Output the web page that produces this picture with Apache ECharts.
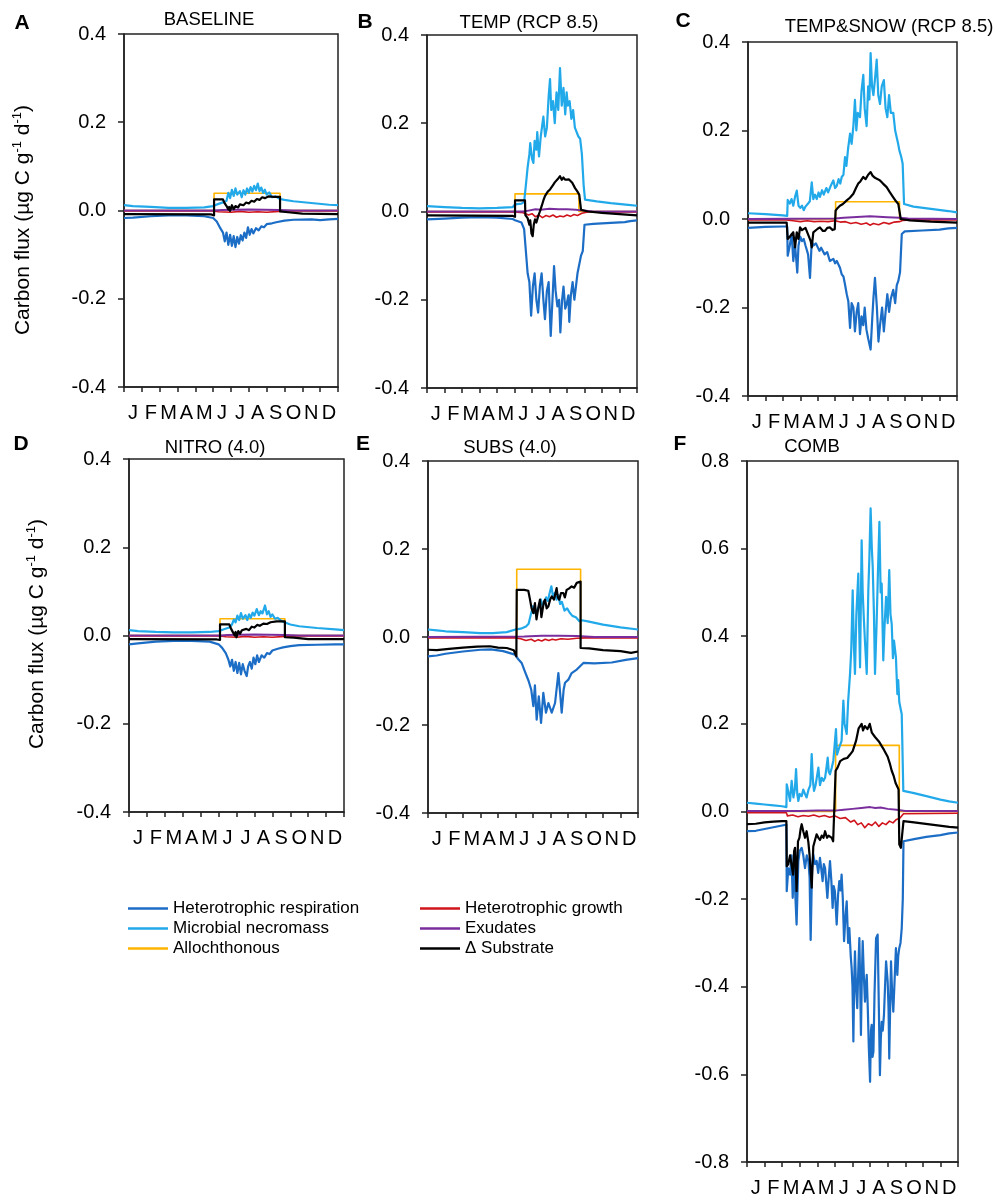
<!DOCTYPE html>
<html>
<head>
<meta charset="utf-8">
<title>Carbon flux scenarios</title>
<script src="https://cdn.jsdelivr.net/npm/echarts@6/dist/echarts.min.js"></script>
<style>
  html, body { margin: 0; padding: 0; background: #fff; }
  #chart { width: 998px; height: 1200px; }
</style>
</head>
<body>
<div id="chart"></div>
<script>
// x values are in months from 1 January (0 .. 12); y values in µg C g-1 d-1
const monthLabels = ['J','F','M','A','M','J','J','A','S','O','N','D'];
const panelLetters = ['A','B','C','D','E','F'];
const panelTitles = ['BASELINE','TEMP (RCP 8.5)','TEMP&SNOW (RCP 8.5)','NITRO (4.0)','SUBS (4.0)','COMB'];
const seriesNames = ['Heterotrophic respiration','Microbial necromass','Allochthonous','Heterotrophic growth','Exudates','\u0394 Substrate'];
const yLimits = [0.4, 0.4, 0.4, 0.4, 0.4, 0.8];

// ---- A: BASELINE ----
const respA = [[0,-0.017],[0.5,-0.016],[1.5,-0.013],[2.5,-0.011],[3.5,-0.011],[4.5,-0.013],[5.0,-0.017],[5.2,-0.025],[5.4,-0.04],[5.55,-0.05],[5.65,-0.07],[5.75,-0.05],[5.85,-0.078],[5.95,-0.055],[6.05,-0.08],[6.15,-0.058],[6.25,-0.083],[6.35,-0.06],[6.45,-0.075],[6.55,-0.056],[6.65,-0.068],[6.75,-0.05],[6.85,-0.062],[6.95,-0.038],[7.05,-0.055],[7.15,-0.042],[7.25,-0.052],[7.4,-0.04],[7.55,-0.045],[7.7,-0.036],[7.85,-0.038],[8.0,-0.031],[8.3,-0.029],[8.6,-0.026],[9.0,-0.023],[9.5,-0.021],[10.5,-0.02],[11,-0.022],[11.5,-0.02],[12,-0.019]];
const necroA = [[0,0.012],[0.5,0.01],[1.5,0.008],[2.5,0.006],[3.5,0.006],[4.5,0.007],[5.0,0.01],[5.3,0.015],[5.6,0.019],[5.75,0.022],[5.85,0.04],[5.95,0.028],[6.05,0.047],[6.15,0.033],[6.25,0.05],[6.35,0.036],[6.5,0.044],[6.6,0.03],[6.7,0.046],[6.8,0.036],[6.9,0.05],[7.0,0.04],[7.1,0.053],[7.2,0.043],[7.3,0.056],[7.4,0.046],[7.5,0.061],[7.6,0.044],[7.7,0.052],[7.8,0.04],[7.9,0.047],[8.0,0.036],[8.15,0.041],[8.3,0.03],[8.5,0.032],[8.75,0.026],[9.0,0.024],[9.5,0.021],[10.5,0.017],[11.5,0.013],[12,0.012]];
const allochA = [[0,0],[5.05,0],[5.05,0.039],[8.75,0.039],[8.75,0],[12,0]];
const growthA = [[0,-0.001],[5.0,-0.001],[5.3,-0.003],[6.0,-0.004],[6.5,-0.002],[7.0,-0.004],[7.5,-0.003],[8.0,-0.004],[8.7,-0.002],[9.2,-0.001],[12,-0.001]];
const exudA = [[0,0],[5.0,0],[5.5,0.001],[7.0,0.002],[8.7,0.001],[9.5,0],[12,0]];
const substrA = [[0,-0.008],[4.9,-0.009],[5.05,-0.011],[5.05,0.025],[5.55,0.025],[5.65,0.016],[5.75,0.01],[5.85,0.002],[5.9,0.008],[5.95,-0.001],[6.05,0.012],[6.15,0.003],[6.25,0.01],[6.4,0.007],[6.5,0.014],[6.7,0.012],[6.85,0.018],[7.0,0.016],[7.15,0.022],[7.3,0.02],[7.45,0.026],[7.6,0.024],[7.75,0.03],[7.9,0.028],[8.1,0.032],[8.4,0.031],[8.75,0.031],[8.75,-0.002],[9.2,-0.004],[10,-0.007],[12,-0.008]];

// ---- B: TEMP (RCP 8.5) ----
const respB = [[0,-0.018],[1,-0.016],[2,-0.014],[3,-0.013],[4,-0.014],[4.9,-0.017],[5.03,-0.02],[5.4,-0.025],[5.55,-0.04],[5.65,-0.09],[5.75,-0.14],[5.85,-0.16],[5.95,-0.236],[6.05,-0.17],[6.15,-0.14],[6.25,-0.2],[6.35,-0.229],[6.45,-0.17],[6.55,-0.14],[6.65,-0.2],[6.74,-0.244],[6.85,-0.18],[6.95,-0.16],[7.07,-0.282],[7.17,-0.2],[7.26,-0.124],[7.35,-0.18],[7.45,-0.215],[7.55,-0.2],[7.62,-0.274],[7.72,-0.2],[7.8,-0.17],[7.9,-0.22],[7.98,-0.21],[8.08,-0.19],[8.13,-0.25],[8.22,-0.19],[8.32,-0.16],[8.42,-0.2],[8.51,-0.17],[8.6,-0.14],[8.7,-0.14],[8.8,-0.1],[8.9,-0.09],[9.0,-0.03],[9.5,-0.028],[10.5,-0.026],[11.3,-0.024],[11.6,-0.022],[12,-0.02]];
const necroB = [[0,0.012],[1,0.01],[2,0.008],[3,0.007],[4,0.008],[4.9,0.01],[5.03,0.016],[5.4,0.018],[5.55,0.022],[5.65,0.06],[5.75,0.1],[5.85,0.13],[5.9,0.155],[6.0,0.12],[6.08,0.11],[6.15,0.16],[6.25,0.14],[6.3,0.18],[6.4,0.125],[6.5,0.17],[6.6,0.2],[6.65,0.215],[6.75,0.17],[6.85,0.19],[6.95,0.26],[7.03,0.3],[7.1,0.23],[7.2,0.25],[7.3,0.2],[7.4,0.27],[7.5,0.23],[7.6,0.325],[7.7,0.24],[7.8,0.28],[7.9,0.22],[7.98,0.27],[8.05,0.24],[8.15,0.25],[8.25,0.21],[8.35,0.23],[8.45,0.19],[8.55,0.19],[8.65,0.17],[8.75,0.165],[8.85,0.13],[8.95,0.06],[9.03,0.027],[9.7,0.023],[10.5,0.019],[11.5,0.015],[12,0.013]];
const allochB = [[0,0],[5.03,0],[5.03,0.04],[8.68,0.04],[8.68,0],[12,0]];
const growthB = [[0,-0.001],[5.0,-0.001],[5.5,-0.003],[5.8,-0.008],[6.0,-0.005],[6.2,-0.012],[6.4,-0.008],[6.6,-0.014],[6.8,-0.009],[7.0,-0.012],[7.2,-0.008],[7.4,-0.013],[7.6,-0.01],[7.8,-0.012],[8.0,-0.008],[8.2,-0.011],[8.4,-0.007],[8.6,-0.009],[8.85,-0.004],[9.2,-0.001],[12,-0.001]];
const exudB = [[0,0],[5.5,0],[5.8,0.002],[6.2,0.005],[6.5,0.004],[7.0,0.006],[7.5,0.005],[8.0,0.005],[8.5,0.004],[8.9,0.002],[9.5,0],[12,0]];
const substrB = [[0,-0.009],[4.9,-0.01],[5.03,-0.012],[5.03,0.025],[5.6,0.025],[5.62,-0.008],[5.75,-0.015],[5.85,-0.03],[5.9,-0.02],[5.97,-0.05],[6.04,-0.056],[6.1,-0.03],[6.17,-0.018],[6.25,-0.025],[6.36,-0.01],[6.45,0.0],[6.55,0.012],[6.65,0.025],[6.74,0.035],[6.9,0.045],[7.03,0.05],[7.2,0.06],[7.3,0.066],[7.41,0.069],[7.5,0.075],[7.6,0.08],[7.7,0.072],[7.8,0.077],[7.89,0.072],[8.0,0.075],[8.1,0.073],[8.17,0.076],[8.3,0.065],[8.46,0.053],[8.6,0.045],[8.7,0.038],[8.8,0.004],[9.2,0.0],[10,-0.003],[11,-0.006],[12,-0.009]];

// ---- C: TEMP&SNOW (RCP 8.5) ----
const respC = [[0,-0.02],[1,-0.018],[2,-0.017],[2.25,-0.017],[2.28,-0.083],[2.4,-0.06],[2.51,-0.034],[2.6,-0.095],[2.7,-0.057],[2.83,-0.121],[2.9,-0.06],[3.0,-0.04],[3.1,-0.05],[3.2,-0.045],[3.3,-0.06],[3.45,-0.08],[3.56,-0.133],[3.66,-0.05],[3.75,-0.06],[3.9,-0.055],[4.1,-0.072],[4.2,-0.065],[4.4,-0.08],[4.55,-0.075],[4.7,-0.095],[4.9,-0.09],[5.0,-0.1],[5.1,-0.095],[5.28,-0.11],[5.38,-0.125],[5.48,-0.13],[5.57,-0.148],[5.67,-0.17],[5.76,-0.186],[5.86,-0.246],[5.95,-0.19],[6.05,-0.2],[6.14,-0.254],[6.24,-0.21],[6.33,-0.19],[6.43,-0.26],[6.52,-0.22],[6.62,-0.24],[6.7,-0.2],[6.8,-0.25],[6.9,-0.27],[7.04,-0.295],[7.14,-0.22],[7.2,-0.18],[7.29,-0.133],[7.4,-0.2],[7.49,-0.277],[7.58,-0.24],[7.7,-0.2],[7.8,-0.254],[7.9,-0.21],[8.0,-0.17],[8.1,-0.21],[8.2,-0.18],[8.34,-0.16],[8.45,-0.19],[8.54,-0.15],[8.63,-0.14],[8.73,-0.12],[8.83,-0.034],[9.0,-0.028],[10,-0.026],[11,-0.024],[11.5,-0.021],[12,-0.02]];
const necroC = [[0,0.013],[1,0.011],[2,0.008],[2.25,0.007],[2.28,0.043],[2.4,0.035],[2.5,0.045],[2.6,0.03],[2.7,0.05],[2.8,0.064],[2.9,0.03],[3.0,0.025],[3.1,0.03],[3.2,0.02],[3.3,0.028],[3.45,0.035],[3.55,0.04],[3.66,0.083],[3.75,0.045],[3.85,0.055],[3.95,0.045],[4.05,0.06],[4.13,0.05],[4.25,0.065],[4.35,0.055],[4.5,0.07],[4.6,0.06],[4.75,0.075],[4.9,0.087],[5.0,0.07],[5.1,0.075],[5.2,0.09],[5.3,0.08],[5.38,0.095],[5.48,0.1],[5.57,0.14],[5.65,0.12],[5.75,0.16],[5.86,0.193],[5.95,0.17],[6.05,0.21],[6.14,0.269],[6.22,0.2],[6.3,0.24],[6.43,0.23],[6.52,0.29],[6.62,0.326],[6.7,0.25],[6.81,0.21],[6.9,0.3],[6.97,0.27],[7.04,0.375],[7.12,0.3],[7.2,0.28],[7.3,0.32],[7.39,0.36],[7.48,0.28],[7.58,0.26],[7.68,0.3],[7.8,0.314],[7.9,0.25],[8.0,0.23],[8.1,0.28],[8.2,0.24],[8.34,0.24],[8.45,0.2],[8.54,0.2],[8.62,0.17],[8.69,0.155],[8.8,0.14],[8.88,0.125],[8.96,0.034],[9.5,0.028],[10.5,0.023],[11.5,0.018],[12,0.015]];
const allochC = [[0,0],[5.03,0],[5.03,0.039],[8.7,0.039],[8.7,0],[12,0]];
const growthC = [[0,-0.002],[2.2,-0.002],[2.3,-0.005],[2.6,-0.004],[3.0,-0.006],[3.4,-0.004],[3.8,-0.006],[4.2,-0.005],[4.6,-0.006],[5.0,-0.004],[5.3,-0.007],[5.6,-0.006],[5.9,-0.01],[6.2,-0.008],[6.5,-0.012],[6.8,-0.009],[7.0,-0.014],[7.2,-0.01],[7.5,-0.013],[7.8,-0.008],[8.1,-0.011],[8.4,-0.007],[8.7,-0.006],[8.9,-0.003],[9.3,-0.002],[12,-0.002]];
const exudC = [[0,0],[5.0,0.001],[5.5,0.003],[6.0,0.004],[6.5,0.005],[7.0,0.006],[7.5,0.005],[8.0,0.004],[8.7,0.003],[9.2,0.001],[12,0]];
const substrC = [[0,-0.008],[2.22,-0.008],[2.28,-0.045],[2.4,-0.04],[2.51,-0.042],[2.6,-0.03],[2.7,-0.064],[2.8,-0.03],[2.9,-0.045],[2.99,-0.019],[3.1,-0.025],[3.18,-0.027],[3.3,-0.02],[3.37,-0.019],[3.5,-0.04],[3.6,-0.05],[3.66,-0.064],[3.75,-0.03],[3.85,-0.027],[4.0,-0.022],[4.13,-0.019],[4.3,-0.027],[4.42,-0.027],[4.55,-0.02],[4.71,-0.019],[4.85,-0.025],[4.98,-0.023],[5.03,0.019],[5.15,0.025],[5.28,0.03],[5.45,0.034],[5.67,0.042],[5.85,0.048],[6.05,0.057],[6.2,0.07],[6.33,0.08],[6.45,0.085],[6.62,0.095],[6.75,0.09],[6.9,0.1],[7.04,0.106],[7.15,0.098],[7.29,0.093],[7.45,0.09],[7.58,0.087],[7.75,0.08],[7.96,0.072],[8.15,0.06],[8.34,0.049],[8.5,0.04],[8.63,0.034],[8.72,0.03],[8.77,0.0],[8.85,-0.004],[9.3,-0.003],[10.5,-0.006],[12,-0.008]];

// ---- D: NITRO (4.0) ----
const respD = [[0,-0.02],[0.5,-0.018],[1.5,-0.014],[2.5,-0.012],[3.5,-0.012],[4.5,-0.014],[5.0,-0.02],[5.2,-0.028],[5.4,-0.04],[5.55,-0.055],[5.65,-0.07],[5.75,-0.055],[5.85,-0.08],[5.95,-0.06],[6.05,-0.085],[6.15,-0.062],[6.25,-0.088],[6.35,-0.065],[6.45,-0.08],[6.57,-0.092],[6.65,-0.07],[6.75,-0.06],[6.85,-0.075],[6.95,-0.05],[7.05,-0.065],[7.15,-0.045],[7.25,-0.06],[7.4,-0.045],[7.55,-0.05],[7.7,-0.04],[7.85,-0.042],[8.0,-0.034],[8.3,-0.03],[8.6,-0.027],[9.0,-0.024],[9.5,-0.022],[10.5,-0.021],[11.5,-0.02],[12,-0.02]];
const necroD = [[0,0.012],[0.5,0.01],[1.5,0.008],[2.5,0.007],[3.5,0.007],[4.5,0.008],[5.0,0.01],[5.3,0.014],[5.6,0.018],[5.75,0.025],[5.85,0.036],[5.95,0.03],[6.05,0.045],[6.15,0.035],[6.25,0.051],[6.35,0.038],[6.5,0.046],[6.6,0.035],[6.7,0.048],[6.8,0.04],[6.9,0.052],[7.0,0.045],[7.13,0.06],[7.25,0.046],[7.35,0.055],[7.45,0.05],[7.59,0.068],[7.7,0.048],[7.8,0.055],[7.9,0.042],[8.0,0.048],[8.15,0.038],[8.3,0.04],[8.5,0.033],[8.75,0.029],[9.0,0.025],[9.5,0.021],[10.5,0.017],[11.5,0.014],[12,0.012]];
const allochD = [[0,0],[5.08,0],[5.08,0.038],[8.7,0.038],[8.7,0],[12,0]];
const growthD = [[0,-0.001],[5.1,-0.001],[5.4,-0.003],[6.0,-0.004],[6.5,-0.002],[7.0,-0.004],[7.5,-0.003],[8.0,-0.004],[8.7,-0.002],[9.2,-0.001],[12,-0.001]];
const exudD = [[0,0],[5.1,0],[5.5,0.001],[7.0,0.002],[8.7,0.001],[9.5,0],[12,0]];
const substrD = [[0,-0.008],[4.9,-0.009],[5.08,-0.01],[5.08,0.025],[5.6,0.025],[5.7,0.015],[5.82,0.006],[5.9,0.0],[5.95,0.008],[6.0,-0.004],[6.1,0.01],[6.2,0.004],[6.3,0.012],[6.4,0.008],[6.55,0.015],[6.7,0.012],[6.85,0.02],[7.0,0.018],[7.15,0.024],[7.3,0.022],[7.5,0.027],[7.7,0.026],[7.9,0.03],[8.24,0.032],[8.7,0.032],[8.7,-0.004],[9.2,-0.005],[10,-0.008],[12,-0.008]];

// ---- E: SUBS (4.0) ----
const respE = [[0,-0.044],[0.5,-0.042],[1,-0.038],[2,-0.033],[3,-0.029],[3.6,-0.028],[4.3,-0.032],[4.97,-0.04],[5.15,-0.05],[5.35,-0.059],[5.55,-0.08],[5.75,-0.1],[5.9,-0.12],[6.02,-0.157],[6.11,-0.11],[6.21,-0.188],[6.33,-0.135],[6.46,-0.195],[6.59,-0.127],[6.74,-0.172],[6.88,-0.15],[7.07,-0.172],[7.26,-0.15],[7.45,-0.082],[7.55,-0.127],[7.64,-0.172],[7.75,-0.12],[7.83,-0.104],[8.02,-0.097],[8.21,-0.082],[8.5,-0.074],[8.88,-0.059],[9.5,-0.06],[10.5,-0.058],[11.3,-0.052],[12,-0.048]];
const necroE = [[0,0.017],[0.5,0.015],[1,0.013],[2,0.011],[3,0.009],[3.7,0.009],[4.5,0.011],[5.0,0.017],[5.3,0.019],[5.6,0.024],[5.75,0.03],[5.85,0.047],[6.0,0.07],[6.1,0.055],[6.2,0.06],[6.35,0.07],[6.45,0.085],[6.55,0.07],[6.65,0.078],[6.75,0.09],[6.85,0.082],[6.95,0.1],[7.05,0.115],[7.15,0.09],[7.25,0.1],[7.35,0.085],[7.45,0.095],[7.55,0.075],[7.65,0.08],[7.8,0.06],[7.95,0.065],[8.1,0.055],[8.25,0.048],[8.45,0.045],[8.65,0.036],[8.8,0.038],[9.2,0.035],[10,0.028],[11,0.022],[12,0.017]];
const allochE = [[0,0],[5.07,0],[5.07,0.154],[8.72,0.154],[8.72,0],[12,0]];
const growthE = [[0,-0.002],[5.0,-0.002],[5.3,-0.004],[5.6,-0.008],[5.9,-0.005],[6.1,-0.01],[6.3,-0.006],[6.5,-0.009],[6.7,-0.005],[6.9,-0.008],[7.1,-0.005],[7.3,-0.007],[7.6,-0.004],[8.0,-0.005],[8.5,-0.003],[9,-0.002],[12,-0.002]];
const exudE = [[0,0],[5.5,0.001],[6.5,0.003],[7.5,0.003],[8.5,0.002],[9.5,0],[12,0]];
const substrE = [[0,-0.029],[0.5,-0.03],[1.2,-0.027],[2,-0.024],[2.8,-0.022],[3.54,-0.021],[4.0,-0.024],[4.5,-0.025],[4.9,-0.03],[5.05,-0.044],[5.07,0.107],[5.5,0.107],[5.73,0.105],[5.83,0.085],[5.92,0.065],[6.02,0.054],[6.11,0.077],[6.2,0.04],[6.25,0.039],[6.32,0.07],[6.4,0.085],[6.48,0.045],[6.55,0.047],[6.62,0.08],[6.69,0.085],[6.78,0.065],[6.88,0.07],[6.98,0.085],[7.07,0.092],[7.2,0.085],[7.35,0.111],[7.42,0.09],[7.5,0.085],[7.6,0.1],[7.73,0.1],[7.82,0.09],[7.92,0.107],[8.05,0.11],[8.21,0.115],[8.35,0.112],[8.5,0.123],[8.6,0.12],[8.72,0.126],[8.72,-0.025],[9.2,-0.026],[10,-0.03],[11,-0.032],[11.6,-0.036],[12,-0.033]];

// ---- F: COMB ----
const respF = [[0,-0.045],[0.5,-0.044],[1,-0.04],[1.5,-0.036],[2,-0.032],[2.24,-0.03],[2.26,-0.182],[2.35,-0.13],[2.45,-0.144],[2.53,-0.1],[2.6,-0.197],[2.67,-0.12],[2.73,-0.174],[2.82,-0.258],[2.92,-0.113],[3.0,-0.09],[3.11,-0.083],[3.2,-0.1],[3.3,-0.129],[3.4,-0.1],[3.49,-0.113],[3.56,-0.15],[3.62,-0.293],[3.7,-0.13],[3.77,-0.098],[3.87,-0.12],[3.96,-0.113],[4.05,-0.14],[4.15,-0.106],[4.22,-0.13],[4.3,-0.159],[4.37,-0.12],[4.44,-0.129],[4.5,-0.16],[4.57,-0.197],[4.65,-0.15],[4.72,-0.113],[4.8,-0.16],[4.87,-0.22],[4.93,-0.17],[5.0,-0.182],[5.1,-0.258],[5.18,-0.19],[5.25,-0.159],[5.32,-0.18],[5.38,-0.144],[5.45,-0.2],[5.52,-0.296],[5.6,-0.24],[5.67,-0.205],[5.75,-0.3],[5.82,-0.266],[5.9,-0.33],[5.95,-0.357],[6.0,-0.4],[6.05,-0.525],[6.1,-0.38],[6.14,-0.319],[6.2,-0.4],[6.27,-0.449],[6.33,-0.36],[6.39,-0.289],[6.44,-0.4],[6.48,-0.51],[6.53,-0.38],[6.58,-0.296],[6.65,-0.38],[6.71,-0.434],[6.76,-0.4],[6.81,-0.373],[6.87,-0.45],[6.93,-0.54],[7.0,-0.617],[7.05,-0.5],[7.09,-0.487],[7.14,-0.56],[7.19,-0.548],[7.25,-0.42],[7.34,-0.289],[7.43,-0.281],[7.5,-0.45],[7.56,-0.602],[7.61,-0.52],[7.66,-0.48],[7.72,-0.5],[7.79,-0.464],[7.85,-0.4],[7.91,-0.342],[8.0,-0.388],[8.05,-0.45],[8.09,-0.564],[8.14,-0.45],[8.19,-0.342],[8.25,-0.41],[8.32,-0.457],[8.4,-0.38],[8.47,-0.312],[8.55,-0.373],[8.6,-0.33],[8.66,-0.312],[8.73,-0.3],[8.8,-0.266],[8.86,-0.2],[8.9,-0.068],[9.5,-0.063],[10.2,-0.058],[11,-0.054],[11.5,-0.05],[12,-0.048]];
const necroF = [[0,0.02],[0.5,0.018],[1,0.016],[1.5,0.014],[2,0.012],[2.24,0.01],[2.26,0.062],[2.35,0.045],[2.45,0.024],[2.54,0.07],[2.64,0.032],[2.72,0.05],[2.79,0.097],[2.86,0.04],[2.92,0.024],[3.0,0.04],[3.11,0.035],[3.2,0.05],[3.3,0.04],[3.39,0.032],[3.5,0.05],[3.6,0.06],[3.68,0.131],[3.75,0.07],[3.81,0.047],[3.9,0.06],[3.98,0.08],[4.06,0.1],[4.15,0.06],[4.25,0.077],[4.35,0.07],[4.44,0.077],[4.52,0.1],[4.59,0.123],[4.65,0.09],[4.72,0.085],[4.82,0.1],[4.91,0.116],[4.98,0.12],[5.06,0.188],[5.12,0.13],[5.19,0.131],[5.28,0.15],[5.38,0.161],[5.48,0.253],[5.55,0.2],[5.67,0.177],[5.75,0.25],[5.86,0.314],[5.93,0.37],[6.01,0.505],[6.08,0.38],[6.14,0.314],[6.22,0.45],[6.33,0.543],[6.38,0.42],[6.43,0.329],[6.52,0.619],[6.58,0.5],[6.65,0.436],[6.72,0.38],[6.81,0.314],[6.9,0.505],[6.96,0.58],[7.03,0.692],[7.1,0.6],[7.15,0.558],[7.22,0.45],[7.28,0.314],[7.37,0.428],[7.45,0.55],[7.53,0.661],[7.6,0.5],[7.66,0.52],[7.75,0.345],[7.82,0.42],[7.91,0.49],[8.0,0.43],[8.09,0.551],[8.16,0.45],[8.23,0.428],[8.3,0.35],[8.36,0.39],[8.47,0.352],[8.55,0.268],[8.6,0.3],[8.66,0.25],[8.8,0.222],[8.89,0.047],[9.5,0.042],[10.2,0.035],[11,0.027],[11.5,0.023],[12,0.02]];
const allochF = [[0,0],[5.04,0],[5.04,0.151],[8.66,0.151],[8.66,0],[12,0]];
const growthF = [[0,-0.003],[2.24,-0.003],[2.3,-0.01],[2.6,-0.008],[2.9,-0.012],[3.2,-0.009],[3.5,-0.011],[3.8,-0.008],[4.1,-0.012],[4.4,-0.009],[4.7,-0.013],[5.0,-0.01],[5.3,-0.016],[5.6,-0.014],[5.9,-0.024],[6.1,-0.02],[6.3,-0.03],[6.5,-0.026],[6.7,-0.037],[6.9,-0.028],[7.1,-0.032],[7.3,-0.024],[7.5,-0.034],[7.7,-0.026],[7.9,-0.03],[8.1,-0.022],[8.3,-0.026],[8.5,-0.018],[8.7,-0.015],[8.9,-0.005],[12,-0.004]];
const exudF = [[0,0.001],[2.2,0.001],[3,0.001],[4,0.002],[5,0.002],[5.5,0.004],[6,0.006],[6.5,0.008],[7,0.01],[7.3,0.008],[7.6,0.009],[8.0,0.006],[8.5,0.004],[9,0.001],[12,0.001]];
const substrF = [[0,-0.029],[0.5,-0.028],[1,-0.025],[1.5,-0.023],[2,-0.022],[2.24,-0.022],[2.26,-0.125],[2.35,-0.12],[2.45,-0.1],[2.54,-0.098],[2.62,-0.144],[2.68,-0.09],[2.73,-0.083],[2.82,-0.182],[2.9,-0.068],[2.98,-0.06],[3.05,-0.04],[3.11,-0.029],[3.2,-0.045],[3.3,-0.06],[3.39,-0.045],[3.49,-0.07],[3.56,-0.1],[3.68,-0.174],[3.77,-0.08],[3.85,-0.068],[3.96,-0.052],[4.06,-0.06],[4.15,-0.065],[4.25,-0.055],[4.35,-0.06],[4.44,-0.045],[4.55,-0.06],[4.64,-0.055],[4.72,-0.052],[4.82,-0.06],[4.9,-0.068],[4.98,-0.07],[5.04,0.093],[5.15,0.1],[5.3,0.115],[5.5,0.12],[5.7,0.122],[5.86,0.13],[6.01,0.138],[6.2,0.161],[6.35,0.19],[6.52,0.2],[6.6,0.185],[6.7,0.195],[6.85,0.188],[6.98,0.2],[7.1,0.18],[7.28,0.17],[7.5,0.16],[7.8,0.14],[8.0,0.125],[8.12,0.11],[8.23,0.093],[8.35,0.08],[8.45,0.065],[8.57,0.055],[8.62,0.05],[8.66,-0.075],[8.75,-0.083],[8.8,-0.08],[8.9,-0.022],[9.5,-0.025],[10.5,-0.03],[11.5,-0.035],[12,-0.037]];

// ---------------------------------------------------------------
const FONT = '"Liberation Sans", Arial, Helvetica, sans-serif';
const AXIS = '#222';

const panelData = [
  [respA, necroA, allochA, growthA, exudA, substrA],
  [respB, necroB, allochB, growthB, exudB, substrB],
  [respC, necroC, allochC, growthC, exudC, substrC],
  [respD, necroD, allochD, growthD, exudD, substrD],
  [respE, necroE, allochE, growthE, exudE, substrE],
  [respF, necroF, allochF, growthF, exudF, substrF]
];

// plot boxes in pixels
const boxes = [
  { left: 124, top: 34,  width: 214, height: 353 },
  { left: 427, top: 35,  width: 210, height: 353 },
  { left: 748, top: 42,  width: 209, height: 354 },
  { left: 129, top: 459, width: 215, height: 353 },
  { left: 428, top: 461, width: 210, height: 352 },
  { left: 747, top: 461, width: 211, height: 701 }
];

const styles = [
  { color: '#1c6dc6', width: 2.2 }, // respiration
  { color: '#22a9ea', width: 2.2 }, // necromass
  { color: '#ffb400', width: 1.6 }, // allochthonous
  { color: '#d0141c', width: 1.6 }, // growth
  { color: '#7a2e9e', width: 2 },   // exudates
  { color: '#000000', width: 2.2 }  // Δ substrate
];
// drawing order (later on top)
const drawOrder = [2, 3, 4, 0, 1, 5];

const grids = [], xAxes = [], yAxes = [], series = [];
boxes.forEach((b, i) => {
  grids.push(Object.assign({ show: true, borderColor: AXIS, borderWidth: 1.5, backgroundColor: 'transparent' }, b));
  xAxes.push({
    type: 'category', gridIndex: i, data: monthLabels, boundaryGap: true, position: 'bottom',
    axisLine: { onZero: false, lineStyle: { color: AXIS, width: 1.5 } },
    axisTick: { show: true, interval: 0, inside: false, length: 5, lineStyle: { color: AXIS, width: 1.5 } },
    axisLabel: { interval: 0, margin: 16, color: '#000', fontSize: 20, fontFamily: FONT },
    splitLine: { show: false }
  });
  xAxes.push({ type: 'value', gridIndex: i, min: 0, max: 12, show: false,
    axisLine: { onZero: false, show: false }, axisTick: { show: false }, axisLabel: { show: false }, splitLine: { show: false } });
  const lim = yLimits[i];
  yAxes.push({
    type: 'value', gridIndex: i, min: -lim, max: lim, interval: 0.2,
    axisLine: { show: true, onZero: false, lineStyle: { color: AXIS, width: 1.5 } },
    axisTick: { show: true, inside: false, length: 6, lineStyle: { color: AXIS, width: 1.5 } },
    axisLabel: { margin: 18, color: '#000', fontSize: 20, fontFamily: FONT, formatter: v => v.toFixed(1) },
    splitLine: { show: false }
  });
  drawOrder.forEach(k => {
    series.push({
      type: 'line', name: seriesNames[k], xAxisIndex: 2 * i + 1, yAxisIndex: i,
      data: panelData[i][k], showSymbol: false, symbol: 'none', smooth: false,
      color: styles[k].color,
      lineStyle: { color: styles[k].color, width: styles[k].width, join: 'round' },
      emphasis: { disabled: true }, animation: false
    });
  });
});

const legendBase = {
  orient: 'vertical', itemGap: 3, itemWidth: 40, itemHeight: 2.5, icon: 'rect',
  textStyle: { fontSize: 17, fontFamily: FONT, color: '#000' }, selectedMode: false
};
const legends = [
  Object.assign({ left: 123, top: 895, data: seriesNames.slice(0, 3) }, legendBase),
  Object.assign({ left: 415, top: 895, data: seriesNames.slice(3, 6) }, legendBase)
];

function label(x, y, text, size, weight) {
  return { type: 'text', x, y, silent: true,
    style: { text, fill: '#000', fontSize: size, fontWeight: weight || 'normal', fontFamily: FONT,
      align: 'center', verticalAlign: 'middle', textAlign: 'center', textVerticalAlign: 'middle' } };
}
const letterPos = [[22, 23], [365, 22], [683, 21], [21, 444], [363, 444], [680, 444]];
const titlePos = [[209, 20], [529, 23], [889, 27], [215, 448], [510, 448], [812, 447]];
const graphics = [];
panelLetters.forEach((t, i) => graphics.push(label(letterPos[i][0], letterPos[i][1], t, 21, 'bold')));
panelTitles.forEach((t, i) => graphics.push(label(titlePos[i][0], titlePos[i][1], t, 18.5)));

const yName = '{a|Carbon flux (\u00b5g C g}{s|-1}{a| d}{s|-1}{a|)}';
const yRich = {
  a: { fontSize: 21, fontFamily: FONT, fill: '#000', color: '#000', lineHeight: 26 },
  s: { fontSize: 13, fontFamily: FONT, fill: '#000', color: '#000', lineHeight: 13, padding: [0, 0, 11, 0] }
};
[[23, 220], [37, 634]].forEach(p => graphics.push({
  type: 'text', x: p[0], y: p[1], rotation: Math.PI / 2, silent: true,
  style: { text: yName, rich: yRich, fill: '#000', align: 'center', verticalAlign: 'middle',
    textAlign: 'center', textVerticalAlign: 'middle' }
}));

const chart = echarts.init(document.getElementById('chart'), null, { renderer: 'canvas' });
chart.setOption({
  animation: false,
  backgroundColor: '#fff',
  grid: grids, xAxis: xAxes, yAxis: yAxes, series,
  legend: legends,
  graphic: { elements: graphics }
});
</script>
</body>
</html>
